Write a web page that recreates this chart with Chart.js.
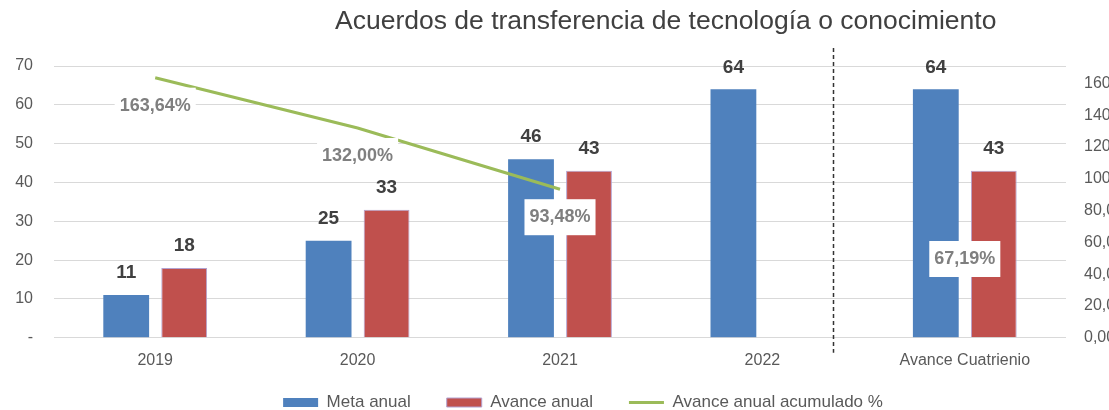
<!DOCTYPE html>
<html lang="es">
<head>
<meta charset="utf-8">
<title>Acuerdos de transferencia de tecnología o conocimiento</title>
<script src="https://cdn.jsdelivr.net/npm/chart.js@4.4.1/dist/chart.umd.min.js"></script>
<style>
  html, body { margin: 0; padding: 0; background: #fff; overflow: hidden; }
  #wrap { position: relative; width: 1150px; height: 410px; }
  #titulo {
    position: absolute; left: 335px; top: 5px; margin: 0;
    font: 400 26.5px 'Liberation Sans', Arial, sans-serif; color: #404040; white-space: nowrap;
  }
</style>
</head>
<body>
<div id="wrap">
  <h1 id="titulo">Acuerdos de transferencia de tecnología o conocimiento</h1>
  <canvas id="grafico"></canvas>
</div>
<script>
// ================== Datos ==================
const categorias = ['2019', '2020', '2021', '2022', 'Avance Cuatrienio'];
const metaAnual = [11, 25, 46, 64, 64];
const avanceAnual = [18, 33, 43, null, 43];
const avanceAcumulado = [163.64, 132.00, 93.48, null, 67.19];
const ticksIzq = [0, 10, 20, 30, 40, 50, 60, 70];
const ticksDer = [0, 20, 40, 60, 80, 100, 120, 140, 160];
const divisorEn = 3.35; // posición (en categorías) de la línea punteada

const fuente = "'Liberation Sans', Arial, sans-serif";
const gris = '#595959';

const pct = v => v.toFixed(2).replace('.', ',') + '%';

// etiquetas de datos (barras arriba, porcentajes abajo con fondo blanco)
const etiquetas = {
  id: 'etiquetas',
  afterDatasetsDraw(chart) {
    const ctx = chart.ctx;
    ctx.save();
    ctx.textAlign = 'center';
    ctx.textBaseline = 'middle';
    chart.data.datasets.forEach((ds, i) => {
      const meta = chart.getDatasetMeta(i);
      meta.data.forEach((el, j) => {
        const v = ds.data[j];
        if (v == null) return;
        if (ds.type === 'line') {
          const txt = pct(v);
          ctx.font = 'bold 18px ' + fuente;
          const w = ctx.measureText(txt).width + 10;
          const cy = el.y + 28;
          ctx.fillStyle = '#ffffff';
          ctx.fillRect(el.x - w / 2, cy - 18, w, 36);
          ctx.fillStyle = '#7f7f7f';
          ctx.fillText(txt, el.x, cy);
        } else {
          ctx.font = 'bold 19px ' + fuente;
          ctx.fillStyle = '#404040';
          ctx.fillText(String(v), el.x, el.y - 22);
        }
      });
    });
    ctx.restore();
  }
};

// línea punteada vertical
const divisor = {
  id: 'divisor',
  afterDraw(chart) {
    const { ctx, chartArea, scales } = chart;
    const x = Math.round(scales.x.getPixelForValue(divisorEn)) + 0.5;
    ctx.save();
    ctx.strokeStyle = '#333333';
    ctx.lineWidth = 1.5;
    ctx.setLineDash([4, 3]);
    ctx.beginPath();
    ctx.moveTo(x, chartArea.top - 18);
    ctx.lineTo(x, chartArea.bottom + 15);
    ctx.stroke();
    ctx.restore();
  }
};

// sube la leyenda (el padding de 36 separa los elementos pero la empuja hacia abajo)
const subirLeyenda = {
  id: 'subirLeyenda',
  afterLayout(chart) {
    const lg = chart.legend;
    if (!lg) return;
    lg.top -= 25;
    lg.bottom -= 25;
    lg.left += 8;
    lg.right += 8;
  }
};

const ctx = document.getElementById('grafico');
new Chart(ctx, {
  type: 'bar',
  data: {
    labels: categorias,
    datasets: [
      {
        label: 'Meta anual',
        data: metaAnual,
        backgroundColor: '#4F81BD',
        borderWidth: 0,
        categoryPercentage: 0.573,
        barPercentage: 0.79,
        yAxisID: 'y',
        order: 1
      },
      {
        label: 'Avance anual',
        data: avanceAnual,
        backgroundColor: '#C0504D',
        borderColor: '#B3A2D0',
        borderWidth: 1,
        categoryPercentage: 0.573,
        barPercentage: 0.79,
        yAxisID: 'y',
        order: 1
      },
      {
        type: 'line',
        label: 'Avance anual acumulado %',
        data: avanceAcumulado,
        borderColor: '#9BBB59',
        backgroundColor: '#9BBB59',
        borderWidth: 3,
        pointRadius: 0,
        pointHoverRadius: 0,
        tension: 0,
        spanGaps: false,
        yAxisID: 'y1',
        order: 0
      }
    ]
  },
  options: {
    responsive: true,
    maintainAspectRatio: false,
    animation: false,
    layout: { padding: { top: 66, left: 0, right: 0, bottom: -36 } },
    plugins: {
      title: { display: false },
      tooltip: { enabled: false },
      legend: {
        position: 'bottom',
        labels: {
          usePointStyle: true,
          pointStyleWidth: 35,
          boxWidth: 35,
          boxHeight: 9,
          padding: 36,
          color: gris,
          font: { family: fuente, size: 17 },
          sort: (a, b) => a.datasetIndex - b.datasetIndex,
          generateLabels(chart) {
            const items = Chart.defaults.plugins.legend.labels.generateLabels(chart);
            items.forEach(it => {
              const ds = chart.data.datasets[it.datasetIndex];
              it.pointStyle = ds.type === 'line' ? 'line' : 'rect';
            });
            return items;
          }
        }
      }
    },
    scales: {
      x: {
        grid: { display: false, drawTicks: false },
        border: { display: false },
        ticks: { color: gris, font: { family: fuente, size: 16 }, padding: 13 }
      },
      y: {
        min: 0,
        max: 70,
        afterFit: s => { s.width = 54; },
        afterBuildTicks: s => { s.ticks = ticksIzq.map(v => ({ value: v })); },
        grid: { color: '#d9d9d9', drawTicks: false, lineWidth: 1 },
        border: { display: false },
        ticks: {
          color: gris,
          font: { family: fuente, size: 16 },
          padding: 21,
          callback: v => (v === 0 ? '-' : v)
        }
      },
      y1: {
        position: 'right',
        min: 0,
        max: 171,
        afterFit: s => { s.width = 84; },
        afterBuildTicks: s => { s.ticks = ticksDer.map(v => ({ value: v })); },
        grid: { display: false },
        border: { display: false },
        ticks: {
          color: gris,
          font: { family: fuente, size: 16 },
          padding: 10,
          callback: v => pct(v)
        }
      }
    }
  },
  plugins: [etiquetas, divisor, subirLeyenda]
});
</script>
</body>
</html>
